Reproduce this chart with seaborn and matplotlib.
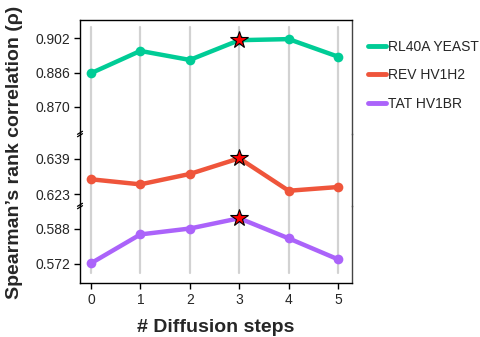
import numpy as np
import pandas as pd
import matplotlib
matplotlib.use("Agg")
import matplotlib.pyplot as plt
import seaborn as sns

# Data
steps = [0, 1, 2, 3, 4, 5]
proteins = ["RL40A YEAST", "REV HV1H2", "TAT HV1BR"]
rl40a = [0.8857, 0.8961, 0.8919, 0.9011, 0.9016, 0.8934]
rev = [0.6297, 0.6274, 0.6321, 0.6392, 0.6245, 0.6262]
tat = [0.5722, 0.5854, 0.5881, 0.5928, 0.5836, 0.5740]
best_step = [3, 3, 3]
colors = ["#00CC96", "#EF553B", "#AB63FA"]

# y ticks of each axis segment (top to bottom)
seg_ticks = [[0.870, 0.886, 0.902], [0.623, 0.639], [0.572, 0.588]]
seg_limits = [(0.8574, 0.9105), (0.6176, 0.6502), (0.5632, 0.5984)]

df = pd.DataFrame({
    "step": steps * 3,
    "rho": rl40a + rev + tat,
    "protein": np.repeat(proteins, len(steps)),
})
best = df[df["step"] == np.repeat(best_step, len(steps))]

sns.set_style("white")
plt.rcParams["font.family"] = ["Liberation Sans", "DejaVu Sans"]

fig = plt.figure(figsize=(4.8, 3.37), dpi=100)
# axis box in pixels: left 80, right 352, top 20, bottom 283; breaks at 134 and 206
H = 337.0
edges = [20, 134, 206, 283]
axes = []
for i in range(3):
    top, bot = edges[i], edges[i + 1]
    ax = fig.add_axes([80 / 480, 1 - bot / H, 272 / 480, (bot - top) / H])
    axes.append(ax)

palette = dict(zip(proteins, colors))
for i, ax in enumerate(axes):
    # vertical grid
    lo, hi = 0, 1
    if i == 0:
        hi = 1 - 6.7 / 114
    if i == 2:
        lo = 10.3 / 77
    for s in steps:
        ax.axvline(s, ymin=lo, ymax=hi, color="#d2d2d2", lw=1.6, zorder=0)

    sns.lineplot(data=df, x="step", y="rho", hue="protein", palette=palette,
                 marker="o", markersize=7, markeredgewidth=0, linewidth=3.2,
                 ax=ax, legend=False, zorder=2)
    ax.plot(best["step"], best["rho"], linestyle="none", marker="*",
            markersize=13, markerfacecolor="red", markeredgecolor="black",
            markeredgewidth=0.8, zorder=3)

    ax.set_xlim(-0.22, 5.28)
    ax.set_ylim(*seg_limits[i])
    ax.set_yticks(seg_ticks[i])
    ax.set_yticklabels(["%.3f" % t for t in seg_ticks[i]])
    ax.set_xlabel("")
    ax.set_ylabel("")
    ax.tick_params(axis="y", left=True, length=4, width=1, color="black",
                   labelsize=10, pad=3)
    for sp in ax.spines.values():
        sp.set_color("black")
        sp.set_linewidth(1)
    ax.spines["right"].set_color("#444444")
    ax.spines["top"].set_visible(i == 0)
    ax.spines["bottom"].set_visible(i == 2)
    ax.patch.set_alpha(0)
    if i < 2:
        ax.tick_params(axis="x", bottom=False, labelbottom=False)
    else:
        ax.set_xticks(steps)
        ax.tick_params(axis="x", bottom=True, length=4, width=1,
                       color="black", labelsize=10, pad=3)

# break marks on the left spine
for ax in axes[1:]:
    w = ax.bbox.width
    h = ax.bbox.height
    for off in (-1.2, 1.2):
        xs = np.array([-2.5, 2.5]) / w
        ys = 1 + (np.array([-1.5, 1.5]) + off) / h
        ax.plot(xs, ys, color="black", lw=0.9, transform=ax.transAxes,
                clip_on=False, zorder=5)

fig.text(216 / 480, 1 - 327 / H, "# Diffusion steps", ha="center",
         va="center", fontsize=14, fontweight="bold")
fig.text(15 / 480, 1 - 152 / H, "Spearman\u2019s rank correlation (\u03c1)",
         ha="center", va="center", rotation=90, fontsize=14,
         fontweight="bold")

handles = [plt.Line2D([], [], color=c, lw=3.5) for c in colors]
fig.legend(handles, proteins, loc="upper left",
           bbox_to_anchor=(362 / 480, 1 - 34 / H), frameon=False,
           fontsize=10, handlelength=1.3, handletextpad=0.2,
           labelspacing=1.05, borderaxespad=0)

fig.savefig("out.png", dpi=100)
